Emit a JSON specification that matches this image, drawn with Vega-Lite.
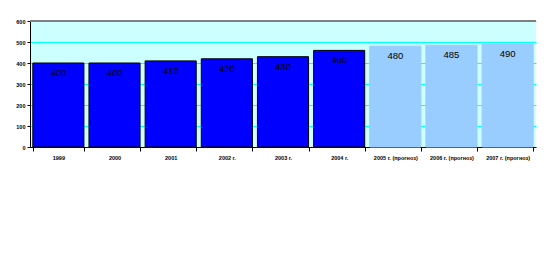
{
  "$schema": "https://vega.github.io/schema/vega-lite/v6.json",
  "autosize": "none",
  "width": 506,
  "height": 126,
  "padding": {"left": 30, "top": 21, "right": 17, "bottom": 106},
  "background": "white",
  "config": {
    "view": {"fill": "#CCFFFF", "stroke": null},
    "font": "Liberation Sans"
  },
  "data": {
    "values": [
      {"year": "1999", "value": 400, "type": "fact"},
      {"year": "2000", "value": 400, "type": "fact"},
      {"year": "2001", "value": 410, "type": "fact"},
      {"year": "2002 г.", "value": 420, "type": "fact"},
      {"year": "2003 г.", "value": 430, "type": "fact"},
      {"year": "2004 г.", "value": 460, "type": "fact"},
      {"year": "2005 г. (прогноз)", "value": 480, "type": "forecast"},
      {"year": "2006 г. (прогноз)", "value": 485, "type": "forecast"},
      {"year": "2007 г. (прогноз)", "value": 490, "type": "forecast"}
    ]
  },
  "encoding": {
    "x": {
      "field": "year", "type": "nominal", "sort": null,
      "scale": {"paddingInner": 0.09, "paddingOuter": 0.05},
      "axis": {
        "title": null, "labelAngle": 0, "labelFontSize": 5.5, "labelFontWeight": "bold", "labelColor": "#000",
        "domainColor": "#000", "tickColor": "#000", "tickBand": "extent", "tickSize": 4,
        "labelPadding": 4
      }
    },
    "y": {
      "field": "value", "type": "quantitative",
      "scale": {"domain": [0, 600]},
      "axis": {
        "title": null, "values": [0, 100, 200, 300, 400, 500, 600], "labelFontSize": 5.5, "labelFontWeight": "bold",
        "labelColor": "#000", "domainColor": "#000", "tickColor": "#000", "tickSize": 3,
        "grid": true, "gridColor": "#00FFFF", "gridWidth": 1
      }
    }
  },
  "layer": [
    {
      "mark": {"type": "rule", "color": "#808080", "strokeWidth": 1.5},
      "encoding": {"y": {"datum": 600}, "x": null}
    },
    {
      "mark": {"type": "bar", "strokeWidth": 1},
      "encoding": {
        "color": {
          "field": "type", "type": "nominal", "legend": null,
          "scale": {"domain": ["fact", "forecast"], "range": ["#0000FF", "#99CCFF"]}
        },
        "stroke": {
          "field": "type", "type": "nominal", "legend": null,
          "scale": {"domain": ["fact", "forecast"], "range": ["#000000", "#99CCFF"]}
        }
      }
    },
    {
      "mark": {"type": "text", "baseline": "top", "dy": 5, "fontSize": 9.5, "color": "#000"},
      "encoding": {"text": {"field": "value", "type": "quantitative"}}
    }
  ]
}
